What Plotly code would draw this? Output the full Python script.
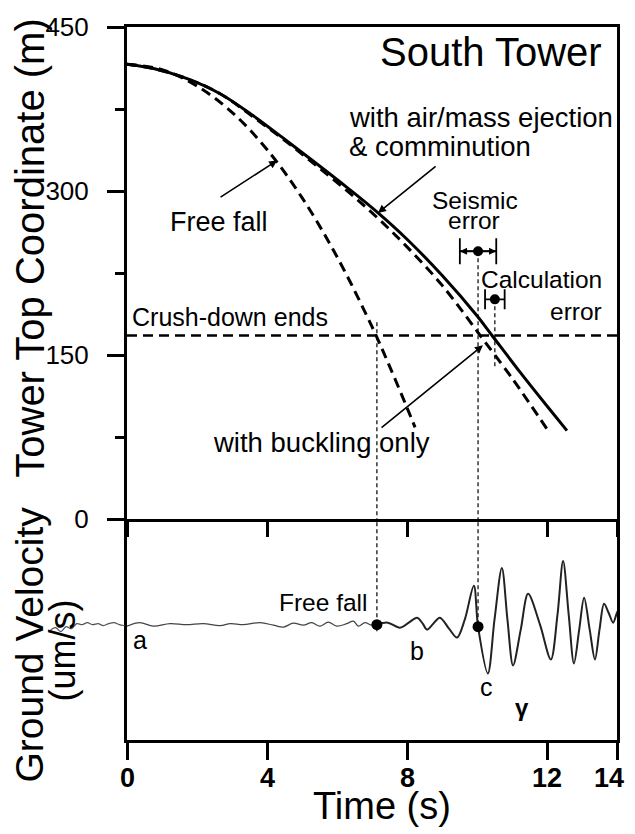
import plotly.graph_objects as go

# --- tower top trajectories, South Tower (time s, height m) ---
t_ejection = [0, 0.76, 1.7, 2.66, 3.6, 4.56, 5.42, 6.3, 7.14, 8.0, 9.0, 10.0, 10.43, 11.23, 12.0, 12.57]
h_ejection = [416, 412, 403, 389, 369, 346, 325, 303, 281, 256, 223, 186, 168, 134.5, 103.5, 81]
t_buckling = [0, 0.76, 1.7, 2.66, 3.6, 4.56, 5.42, 6.3, 7.14, 8.0, 9.0, 10.0, 10.09, 11.0, 12.03]
h_buckling = [416, 412, 403, 389, 368, 345, 323, 300, 276, 249, 214, 172, 168, 129, 81]
t_freefall = [0, 1, 2, 3, 4, 5, 6, 7, 7.5, 8, 8.23]
h_freefall = [416, 411, 396, 372, 338, 294, 240, 176, 140, 102, 84]
crush_down_end = 168

# error estimates (centre time, height, half width in s)
seismic_t, seismic_h, seismic_err = 10.03, 245, 0.52
calc_t, calc_h, calc_err = 10.51, 201, 0.28

# dotted guides dropping from the top panel into the seismogram
guide_t = [7.14, 10.03, 10.51]
guide_top = [180, 245, 201]
guide_bottom = [0, 0, 139]
guide_seis_end = [-9, -2]

# --- seismogram (arbitrary units, baseline 0) ---
t_pre = [-2.2, -2.05, -1.9, -1.75, -1.6, -1.45, -1.3, -1.15, -1.0, -0.85, -0.7, -0.55, -0.4, -0.25, -0.1, 0]
v_pre = [-6, -3, -7, -2, -4, 1, 0, 2, 0, 1, -1, 1, 2, 0, -1, -1.5]
t_quiet = [0, 0.37, 0.75, 1.23, 1.7, 2.18, 2.66, 2.95, 3.32, 3.8, 4.18, 4.47, 4.75, 5.04, 5.28,
           5.51, 5.75, 5.99, 6.28, 6.47, 6.61, 6.8, 6.99, 7.14]
v_quiet = [-1.5, 2, -1.5, 1, 0, 1, -1, 1, 0, 2, -0.5, -2.5, 1.5, -0.5, 2,
           -1.5, 2.5, -1.5, 1, 3.5, -1.5, 2, -0.5, 0]
t_quake = [7.14, 7.45, 7.8, 8.05, 8.29, 8.45, 8.57, 8.75, 8.94, 9.2, 9.43, 9.65, 9.91, 10.03,
           10.31, 10.5, 10.71, 10.87, 11.03, 11.25, 11.46, 11.8, 12.11, 12.3, 12.46, 12.62,
           12.77, 12.92, 13.06, 13.22, 13.37, 13.5, 13.63, 13.76, 13.89, 14.0, 14.14]
v_quake = [0, 2, -3, 2, 7, 1, -5, 1, 7, -4, -13, 5, 39, -2,
           -49, 5, 57, 5, -41, -5, 31, 0, -35, 10, 64, 10,
           -39, -5, 27, -5, -35, -5, 21, 12, 2, 12, 21]
arrival_t = [7.14, 10.03]
arrival_v = [0, -2]

time_ticks = [0, 4, 8, 12, 14]

# page geometry in pixels
W, H = 635, 834
L, R, T, B = 40, 18, 23, 94
PW, PH = W - L - R, H - T - B


def px(x):
    return (x - L) / PW


def py(y):
    return (H - B - y) / PH


SANS = "Liberation Sans, Arial"

fig = go.Figure()

# guides first so curves sit on top
for i, t in enumerate(guide_t):
    fig.add_trace(go.Scatter(x=[t, t], y=[guide_top[i], guide_bottom[i]], mode="lines",
                             line=dict(color="black", width=1.2, dash="4px,3px"),
                             xaxis="x", yaxis="y", hoverinfo="skip"))
for i, v in enumerate(guide_seis_end):
    fig.add_trace(go.Scatter(x=[guide_t[i], guide_t[i]], y=[110, v], mode="lines",
                             line=dict(color="black", width=1.2, dash="4px,3px"),
                             xaxis="x2", yaxis="y2", hoverinfo="skip"))

fig.add_trace(go.Scatter(x=[0, 14], y=[crush_down_end, crush_down_end], mode="lines",
                         line=dict(color="black", width=2.5, dash="10px,6px"),
                         xaxis="x", yaxis="y"))
fig.add_trace(go.Scatter(x=t_freefall, y=h_freefall, mode="lines", line_shape="spline",
                         line=dict(color="black", width=3, dash="10px,6px"), xaxis="x", yaxis="y"))
fig.add_trace(go.Scatter(x=t_buckling, y=h_buckling, mode="lines", line_shape="spline",
                         line=dict(color="black", width=3, dash="10px,6px"), xaxis="x", yaxis="y"))
fig.add_trace(go.Scatter(x=t_ejection, y=h_ejection, mode="lines", line_shape="spline",
                         line=dict(color="black", width=3), xaxis="x", yaxis="y"))

# error bars
fig.add_trace(go.Scatter(x=[seismic_t], y=[seismic_h], mode="markers",
                         marker=dict(color="black", size=10),
                         error_x=dict(type="constant", value=seismic_err, color="black",
                                      thickness=1.8, width=13),
                         xaxis="x", yaxis="y"))
fig.add_trace(go.Scatter(x=[calc_t], y=[calc_h], mode="markers",
                         marker=dict(color="black", size=10),
                         error_x=dict(type="constant", value=calc_err, color="black",
                                      thickness=1.8, width=10),
                         xaxis="x", yaxis="y"))

# seismogram
fig.add_trace(go.Scatter(x=t_pre, y=v_pre, mode="lines", line_shape="spline",
                         line=dict(color="#555", width=1.2), xaxis="x3", yaxis="y2"))
fig.add_trace(go.Scatter(x=t_quiet, y=v_quiet, mode="lines", line_shape="spline",
                         line=dict(color="#444", width=1.2), xaxis="x2", yaxis="y2"))
fig.add_trace(go.Scatter(x=t_quake, y=v_quake, mode="lines", line_shape="spline",
                         line=dict(color="#222", width=2, smoothing=0.9), xaxis="x2", yaxis="y2"))
fig.add_trace(go.Scatter(x=arrival_t, y=arrival_v, mode="markers",
                         marker=dict(color="black", size=11), xaxis="x2", yaxis="y2"))

ann = []


def label(text, x, y, size, anchor="left", angle=0, weight="normal", xref="paper"):
    ann.append(dict(text=text, x=px(x) if xref == "paper" else x, y=py(y),
                    xref=xref, yref="paper",
                    xanchor=anchor, yanchor="middle", showarrow=False, textangle=angle,
                    font=dict(family=SANS, size=size, color="black", weight=weight)))


label("Tower Top Coordinate (m)", 30, 246, 40, "center", -90)
label("Ground Velocity", 30, 644, 39, "center", -90)
label("(um/s)", 63, 650, 36, "center", -90)
label("Time (s)", 382, 806, 38, "center")
label("South Tower", 604, 48, 40, "right")
label("with air/mass ejection", 347, 114, 27.5)
label("& comminution", 347, 143, 27.5)
label("Seismic", 475, 197, 24.5, "center")
label("error", 474, 218, 24.5, "center")
label("Calculation", 479, 277, 24.5)
label("error", 604, 309, 24.5, "right")
label("Crush-down ends", 130, 315, 25)
label("Free fall", 168, 219, 27)
label("with buckling only", 211, 441, 27.5)
label("Free fall", 370, 602, 24.5, "right")
label("a", 131, 639, 25)
label("b", 417, 650, 25, "center")
label("c", 486, 687, 25, "center")
label("γ", 522, 707, 24, "center", 0, "bold")
for i, t in enumerate(time_ticks):
    # the last label sits a little inside the frame, as in the original
    label(str(t), t if i < len(time_ticks) - 1 else t - 0.23, 778, 27, "center", 0, "bold", "x2")


def arrow(hx, hy, tx, ty, size=1.0):
    ann.append(dict(x=hx, y=hy, ax=tx, ay=ty, xref="x", yref="y", axref="x", ayref="y",
                    text="", showarrow=True, arrowhead=2, arrowsize=size, arrowwidth=1.6,
                    arrowcolor="black"))


arrow(7.17, 280, 8.86, 323.6)
arrow(4.29, 328, 2.63, 293.6)
arrow(10.17, 159, 7.23, 82.7)
arrow(seismic_t - seismic_err, seismic_h, seismic_t, seismic_h, 0.9)
arrow(seismic_t + seismic_err, seismic_h, seismic_t, seismic_h, 0.9)

top_dom = [py(518), 1]
bot_dom = [0, py(518)]
x_dom = [px(127), 1]

line_style = dict(showgrid=False, zeroline=False, showline=True, linecolor="black", linewidth=3)

fig.update_layout(
    width=W, height=H, margin=dict(l=L, r=R, t=T, b=B),
    plot_bgcolor="white", paper_bgcolor="white", showlegend=False,
    annotations=ann,
    xaxis=dict(domain=x_dom, anchor="y", range=[0, 14], tickvals=time_ticks,
               ticks="outside", ticklen=15, tickwidth=2.5, tickcolor="black",
               showticklabels=False, mirror=True, **line_style),
    yaxis=dict(domain=top_dom, anchor="x", range=[0, 450], tickvals=[0, 150, 300, 450],
               ticks="outside", ticklen=17, tickwidth=2.5, tickcolor="black",
               ticklabelstandoff=13,
               tickfont=dict(family=SANS, size=26, color="black"),
               minor=dict(tickvals=[75, 225, 375], ticks="outside", ticklen=9,
                          tickwidth=2.5, tickcolor="black"),
               mirror=True, **line_style),
    xaxis2=dict(domain=x_dom, anchor="y2", range=[0, 14], tickvals=time_ticks,
                ticks="outside", ticklen=17, tickwidth=2.5, tickcolor="black",
                showticklabels=False, mirror=False, **line_style),
    yaxis2=dict(domain=bot_dom, anchor="x2", range=[-116, 106], showticklabels=False,
                ticks="", mirror=True, **line_style),
    xaxis3=dict(domain=[0, px(127) - 0.004], anchor="y2", range=[-2.486, -0.1],
                visible=False),
)

fig.write_html("out.html", config={"displayModeBar": False},
               post_script="document.body.style.margin = '0';")
